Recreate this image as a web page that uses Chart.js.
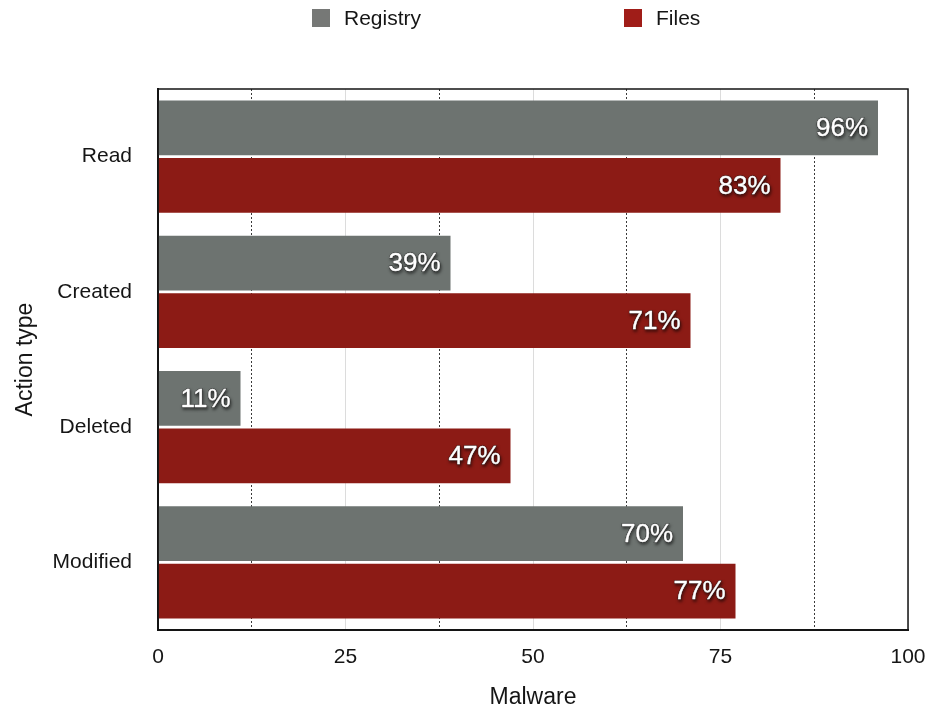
<!DOCTYPE html>
<html>
<head>
<meta charset="utf-8">
<title>Malware actions on registry and files</title>
<script src="https://cdn.jsdelivr.net/npm/chart.js@4/dist/chart.umd.min.js"></script>
<style>
  html, body { margin: 0; padding: 0; background: #fff; }
  #wrap { width: 930px; height: 711px; position: relative; }
</style>
</head>
<body>
<div id="wrap"><canvas id="chart" width="930" height="711"></canvas></div>
<script>
// Share of malware samples performing each action type (%)
const actionTypes = ['Read', 'Created', 'Deleted', 'Modified'];
const registryValues = [96, 39, 11, 70];
const filesValues = [83, 71, 47, 77];
const seriesNames = ['Registry', 'Files'];
const xTickValues = [0, 25, 50, 75, 100];

const FONT = '"Liberation Sans", Arial, Helvetica, sans-serif';
const INK = '#151515';
const GREY = '#6d7370';
const RED = '#8c1b15';

// Percent labels written inside the right end of each bar
const barLabels = {
  id: 'barLabels',
  afterDatasetsDraw(chart) {
    const ctx = chart.ctx;
    ctx.save();
    ctx.font = '26px ' + FONT;
    ctx.textAlign = 'right';
    ctx.textBaseline = 'middle';
    chart.data.datasets.forEach((ds, di) => {
      const meta = chart.getDatasetMeta(di);
      meta.data.forEach((bar, i) => {
        const text = ds.data[i] + '%';
        const x = bar.x - 10;
        const y = bar.y + 1;
        ctx.shadowColor = 'rgba(0,0,0,0.9)';
        ctx.shadowBlur = 3;
        ctx.shadowOffsetX = 1;
        ctx.shadowOffsetY = 2;
        ctx.lineWidth = 1.4;
        ctx.strokeStyle = 'rgba(25,25,25,0.7)';
        ctx.strokeText(text, x, y);
        ctx.shadowColor = 'transparent';
        ctx.fillStyle = '#ffffff';
        ctx.fillText(text, x, y);
        ctx.lineWidth = 0.4;
        ctx.strokeStyle = '#ffffff';
        ctx.strokeText(text, x, y);
      });
    });
    ctx.restore();
  }
};

// Box around the plotting area
const plotFrame = {
  id: 'plotFrame',
  afterDatasetsDraw(chart) {
    const a = chart.chartArea;
    const ctx = chart.ctx;
    ctx.save();
    ctx.strokeStyle = INK;
    ctx.lineWidth = 1.5;
    ctx.strokeRect(a.left, a.top, a.right - a.left, a.bottom - a.top);
    ctx.restore();
  }
};

// Legend row across the top, built from the dataset names and colours
const topLegend = {
  id: 'topLegend',
  afterDraw(chart) {
    const ctx = chart.ctx;
    const starts = [312, 624];
    ctx.save();
    ctx.font = '21px ' + FONT;
    ctx.textBaseline = 'middle';
    ctx.textAlign = 'left';
    chart.data.datasets.forEach((ds, i) => {
      const x = starts[i];
      ctx.fillStyle = ds.legendColor;
      ctx.fillRect(x, 9, 18, 18);
      ctx.fillStyle = INK;
      ctx.fillText(ds.label, x + 32, 19);
    });
    ctx.restore();
  }
};

new Chart(document.getElementById('chart'), {
  type: 'bar',
  data: {
    labels: actionTypes,
    datasets: [
      { label: seriesNames[0], data: registryValues, backgroundColor: GREY, legendColor: '#767876' },
      { label: seriesNames[1], data: filesValues, backgroundColor: RED, legendColor: '#a01d18' }
    ]
  },
  options: {
    indexAxis: 'y',
    responsive: false,
    animation: false,
    devicePixelRatio: 1,
    categoryPercentage: 0.85,
    barPercentage: 0.95,
    layout: { padding: { top: 89, right: 22, bottom: 0, left: 0 } },
    plugins: {
      legend: { display: false },
      tooltip: { enabled: false }
    },
    scales: {
      x: {
        type: 'linear',
        position: 'bottom',
        min: 0,
        max: 100,
        afterBuildTicks: (scale) => { scale.ticks = xTickValues.map(v => ({ value: v })); },
        ticks: {
          font: { family: FONT, size: 21 },
          color: INK,
          padding: 15
        },
        grid: { color: '#dcdcdc', lineWidth: 1, drawTicks: false },
        border: { display: true, color: INK, width: 2 },
        title: {
          display: true,
          text: 'Malware',
          font: { family: FONT, size: 23 },
          color: INK,
          padding: { top: 0, bottom: 0 }
        },
        afterFit: (scale) => {
          scale.height = 81;
          scale.paddingLeft = 0;
          scale.paddingRight = 0;
        }
      },
      xDots: {
        type: 'linear',
        position: 'bottom',
        min: 0,
        max: 100,
        ticks: { display: false, stepSize: 12.5 },
        grid: {
          drawTicks: false,
          lineWidth: 1,
          color: (c) => (c.tick && c.tick.value % 25 !== 0) ? '#3a3a3a' : 'rgba(0,0,0,0)'
        },
        border: { display: false, dash: [2, 2] },
        afterFit: (scale) => {
          scale.height = 0;
          scale.paddingLeft = 0;
          scale.paddingRight = 0;
        }
      },
      y: {
        type: 'category',
        grid: { display: false, drawTicks: false },
        border: { display: true, color: INK, width: 2 },
        ticks: {
          font: { family: FONT, size: 21 },
          color: INK,
          padding: 26
        },
        title: {
          display: true,
          text: 'Action type',
          font: { family: FONT, size: 23 },
          color: INK,
          padding: { top: 12, bottom: 0 }
        },
        afterFit: (scale) => { scale.width = 158; }
      }
    }
  },
  plugins: [barLabels, plotFrame, topLegend]
});
</script>
</body>
</html>
